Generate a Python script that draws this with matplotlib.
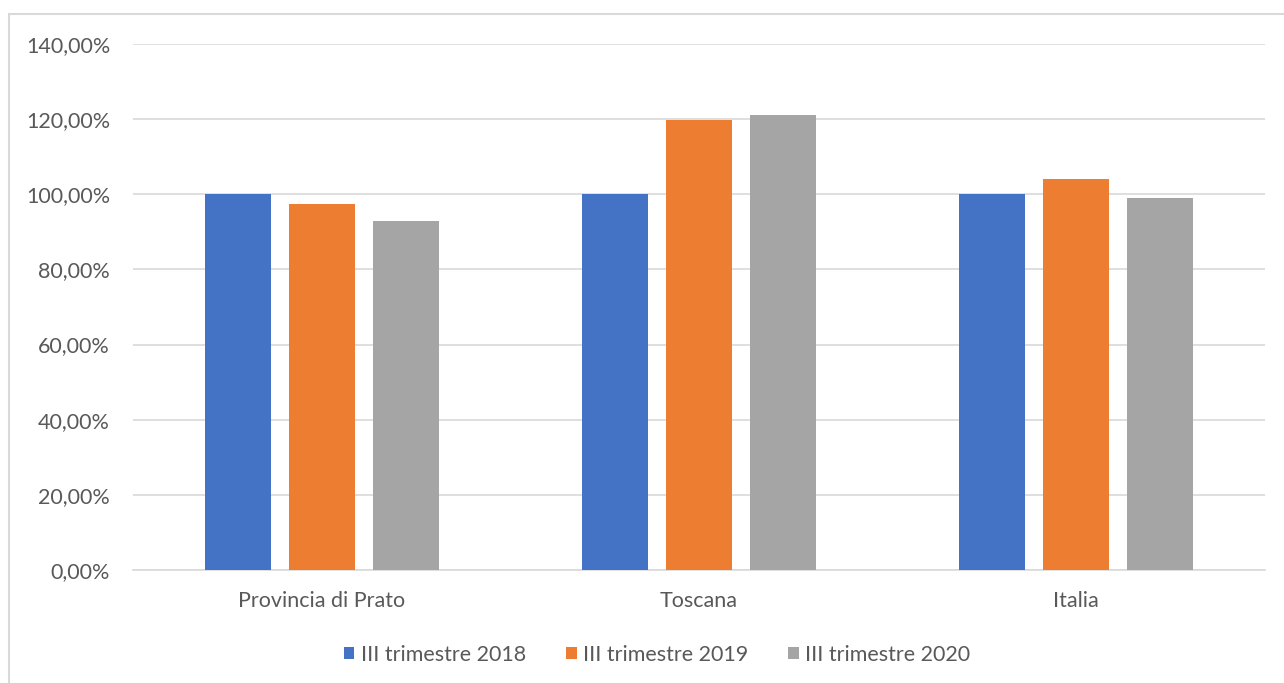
import matplotlib.pyplot as plt
from matplotlib.patches import Rectangle
from matplotlib.ticker import FuncFormatter
import numpy as np

# Data (percent)
categories = ['Provincia di Prato', 'Toscana', 'Italia']
series_names = ['III trimestre 2018', 'III trimestre 2019', 'III trimestre 2020']
q3_2018 = [100.0, 100.0, 100.0]
q3_2019 = [97.3, 119.8, 104.0]
q3_2020 = [92.8, 121.0, 98.9]
colors = ['#4472C4', '#ED7D31', '#A5A5A5']

plt.rcParams['font.family'] = ['Lato', 'DejaVu Sans']
text_color = '#595959'
fs = 15.5

fig = plt.figure(figsize=(12.84, 6.83), dpi=100)
ax = fig.add_axes([133 / 1284, 1 - 570 / 683, (1265 - 133) / 1284, (570 - 44) / 683])

# outer chart frame (cut off at right/bottom in the reference)
fig.add_artist(Rectangle((9 / 1284, -0.1), 1.2, 1 - 14 / 683 + 0.1,
                         transform=fig.transFigure, fill=False,
                         edgecolor='#d9d9d9', linewidth=1.5))

x = np.arange(len(categories))
width = 0.175
step = 0.223
for i, (vals, name) in enumerate(zip([q3_2018, q3_2019, q3_2020], series_names)):
    ax.bar(x + (i - 1) * step, vals, width, color=colors[i], label=name, zorder=3)

ax.set_xlim(-0.5, len(categories) - 0.5)
ax.set_ylim(0, 140)
ax.set_yticks(np.arange(0, 141, 20))
ax.yaxis.set_major_formatter(FuncFormatter(lambda v, p: f'{v:.2f}%'.replace('.', ',')))
ax.set_xticks(x)
ax.set_xticklabels(categories)

ax.grid(axis='y', color='#d9d9d9', linewidth=1.2, zorder=0)
for s in ['top', 'right', 'left']:
    ax.spines[s].set_visible(False)
ax.spines['bottom'].set_color('#d9d9d9')
ax.spines['bottom'].set_linewidth(1.2)
ax.tick_params(axis='both', length=0, labelsize=fs, labelcolor=text_color)
ax.tick_params(axis='y', pad=16.5)
ax.tick_params(axis='x', pad=15)

fig.legend(loc='center', bbox_to_anchor=(657 / 1284, 1 - 655 / 683), ncol=3,
           frameon=False, fontsize=fs, labelcolor=text_color,
           handlelength=0.5, handleheight=0.5, handletextpad=0.3, columnspacing=1.85)

fig.savefig('out.png', dpi=100)
